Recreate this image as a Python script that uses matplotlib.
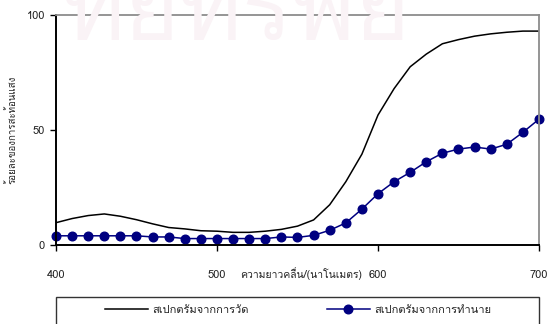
import numpy as np
import matplotlib
matplotlib.use("Agg")
import matplotlib.pyplot as plt
from matplotlib import font_manager
from matplotlib.ft2font import FT2Font
from matplotlib.patches import Rectangle


def find_thai_family():
    # pick an installed family that actually has Thai glyphs
    for f in font_manager.fontManager.ttflist:
        try:
            cmap = FT2Font(f.fname).get_charmap()
        except Exception:
            continue
        if 0x0E2A in cmap and 0x0E01 in cmap:
            return f.name
    return None


thai = find_thai_family()
FAMILY = [thai, "DejaVu Sans"] if thai else ["DejaVu Sans"]
plt.rcParams["font.family"] = FAMILY

# measured reflectance spectrum
wl_measured = [400, 410, 420, 430, 440, 450, 460, 470, 480, 490, 500, 510, 520, 530, 540,
               550, 560, 570, 580, 590, 600, 610, 620, 630, 640, 650, 660, 670, 680, 690, 700]
measured = [9.7, 11.5, 12.8, 13.5, 12.5, 11.0, 9.2, 7.6, 7.0, 6.2, 6.0, 5.5, 5.5, 6.0, 6.8,
            8.2, 10.9, 17.5, 27.5, 39.5, 56.5, 68.0, 77.5, 83.0, 87.5, 89.3, 90.8, 91.8, 92.5, 93.0, 93.0]

# predicted reflectance spectrum
wl_predicted = wl_measured
predicted = [4.0, 4.0, 4.0, 4.0, 4.0, 4.0, 3.5, 3.5, 2.8, 2.8, 2.8, 2.8, 2.8, 2.8, 3.5,
             3.3, 4.2, 6.4, 9.6, 15.6, 22.3, 27.5, 31.6, 36.2, 39.9, 41.7, 42.6, 41.7, 43.8, 49.0, 54.7]

x_ticks = [400, 500, 600, 700]
y_ticks = [0, 50, 100]
lbl_measured = "สเปกตรัมจากการวัด"
lbl_predicted = "สเปกตรัมจากการทำนาย"
x_title = "ความยาวคลื่น/(นาโนเมตร)"
y_title = "ร้อยละของการสะท้อนแสง"

W, H = 560, 324
fig = plt.figure(figsize=(W / 100, H / 100), dpi=100)

# very faint scanned watermark, only its lower part is inside the page
fig.text(62 / W, 1 - 40 / H, "ทยทรัพย", fontsize=68, color="#faf3f6",
         ha="left", va="baseline", zorder=0, family=FAMILY)

ax = fig.add_axes([56 / W, 1 - 245 / H, (539 - 56) / W, (245 - 15) / H])
ax.patch.set_alpha(0)

ax.plot(wl_measured, measured, color="black", lw=1.1, label=lbl_measured)
ax.plot(wl_predicted, predicted, color="#000080", lw=1.1, marker="o", ms=6.2,
        label=lbl_predicted, clip_on=False)

ax.set_xlim(400, 700)
ax.set_ylim(0, 100)
ax.set_xticks(x_ticks)
ax.set_yticks(y_ticks)
ax.tick_params(axis="x", direction="out", length=4, width=1, pad=14, labelsize=8,
               labelcolor="#222222")
ax.tick_params(axis="y", direction="out", length=4, width=1, pad=4, labelsize=8,
               labelcolor="#222222")

for s in ["left", "bottom"]:
    ax.spines[s].set_color("black")
    ax.spines[s].set_linewidth(1.4)
for s in ["top", "right"]:
    ax.spines[s].set_color("#8c8c8c")
    ax.spines[s].set_linewidth(1.3)

ax.set_xlabel(x_title, fontsize=7.5, color="#222222")
ax.xaxis.set_label_coords(0.507, -0.095)
ax.set_ylabel(y_title, fontsize=7, color="#222222")
ax.yaxis.set_label_coords(-0.08, 0.5)

# legend frame runs past the bottom edge of the figure
fig.patches.append(Rectangle((56 / W, -0.05), (539 - 56) / W, 0.05 + (1 - 297 / H),
                             transform=fig.transFigure, fill=False,
                             edgecolor="#333333", lw=1.0))
fig.legend(loc="center", bbox_to_anchor=(298 / W, 1 - 310 / H), ncol=2, frameon=False,
           fontsize=8, handlelength=3.9, columnspacing=7.0, handletextpad=0.4,
           labelcolor="#222222")

fig.savefig("out.png", dpi=100)
